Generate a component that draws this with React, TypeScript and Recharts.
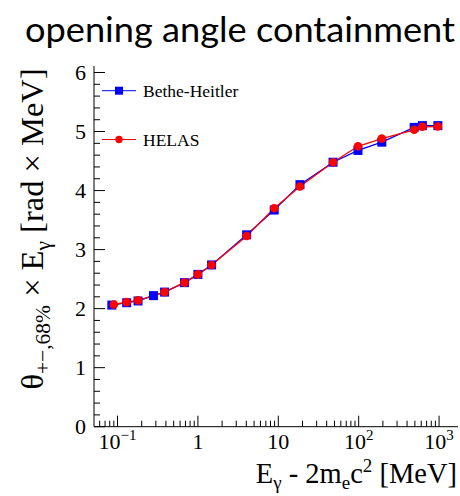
import React from "react";
import { LineChart, Line, XAxis, YAxis } from "recharts";

// photon kinetic energy above threshold [MeV] and 68% containment values
const bhEnergy = [0.085, 0.13, 0.18, 0.28, 0.385, 0.68, 1.0, 1.48, 4.04, 8.9, 18.6, 48, 98, 194, 490, 620, 966];
const bhTheta = [2.06, 2.1, 2.13, 2.22, 2.28, 2.44, 2.58, 2.74, 3.25, 3.67, 4.1, 4.48, 4.68, 4.82, 5.07, 5.1, 5.1];
const helasEnergy = [0.09, 0.13, 0.18, 0.385, 0.68, 1.0, 1.48, 4.04, 8.9, 18.6, 48, 98, 194, 490, 620, 966];
const helasTheta = [2.07, 2.11, 2.14, 2.28, 2.44, 2.58, 2.74, 3.23, 3.7, 4.07, 4.48, 4.75, 4.88, 5.03, 5.08, 5.085];

const xMajor = [0.1, 1, 10, 100, 1000];
const xTickBase = ["10", "1", "10", "10", "10"];
const xTickExp = ["\u22121", "", "", "2", "3"];
const yMajor = [0, 1, 2, 3, 4, 5, 6];

const X_DOMAIN = [0.051, 1720];
const Y_DOMAIN = [0, 6.11];

const PLOT_LEFT = 94;
const PLOT_BOTTOM = 426.7;
const SERIF = "'Liberation Serif', 'Times New Roman', serif";

const bhData = bhEnergy.map((e, i) => ({ e, v: bhTheta[i] }));
const helasData = helasEnergy.map((e, i) => ({ e, v: helasTheta[i] }));

// minor ticks for the log axis: 2..9 in every decade inside the range
const xMinor: number[] = [];
[0.01, 0.1, 1, 10, 100, 1000].forEach((d) => {
    for (let m = 2; m <= 9; m++) {
        const t = +(m * d).toPrecision(3);
        if (t >= X_DOMAIN[0] && t <= X_DOMAIN[1]) xMinor.push(t);
    }
});
const xTicks = [...xMajor, ...xMinor].sort((a, b) => a - b);

const yTicks: number[] = [];
for (let i = 0; i <= 30; i++) yTicks.push(+(i * 0.2).toFixed(1));

const XTick = (props: any) => {
    const { x, payload } = props;
    const idx = xMajor.indexOf(payload.value);
    const major = idx >= 0;
    return (
        <g>
            <line x1={x} x2={x} y1={PLOT_BOTTOM} y2={PLOT_BOTTOM - (major ? 11 : 6)} stroke="#000" strokeWidth={1} />
            {major && (
                <text x={x} y={449} textAnchor="middle" fontFamily={SERIF} fontSize={22} fill="#000">
                    {xTickBase[idx]}
                    {xTickExp[idx] && (
                        <tspan dy={-9} fontSize={15}>
                            {xTickExp[idx]}
                        </tspan>
                    )}
                </text>
            )}
        </g>
    );
};

const YTick = (props: any) => {
    const { y, payload } = props;
    const major = yMajor.includes(payload.value);
    return (
        <g>
            <line x1={PLOT_LEFT} x2={PLOT_LEFT + (major ? 11 : 6)} y1={y} y2={y} stroke="#000" strokeWidth={1} />
            {major && (
                <text x={86} y={y} dy="0.35em" textAnchor="end" fontFamily={SERIF} fontSize={22} fill="#000">
                    {payload.value}
                </text>
            )}
        </g>
    );
};

const BlueSquare = (props: any) => {
    const { cx, cy, index } = props;
    return <rect key={`bh-${index}`} x={cx - 4.5} y={cy - 4.5} width={9} height={9} fill="#0000ff" />;
};

const RedCircle = (props: any) => {
    const { cx, cy, index } = props;
    return <circle key={`helas-${index}`} cx={cx} cy={cy} r={4.3} fill="#ff0000" />;
};

const XTitle = () => (
    <text x={457} y={483} textAnchor="end" fontFamily={SERIF} fontSize={28.5} fill="#000">
        E<tspan dy={6} fontSize={19}>γ</tspan>
        <tspan dy={-6}> - 2m</tspan>
        <tspan dy={6} fontSize={19}>e</tspan>
        <tspan dy={-6}>c</tspan>
        <tspan dy={-11} fontSize={19}>2</tspan>
        <tspan dy={11}> [MeV]</tspan>
    </text>
);

const YTitle = () => (
    <text
        transform="translate(43, 229) rotate(-90)"
        textAnchor="middle"
        fontFamily={SERIF}
        fontSize={32.5}
        fill="#000"
    >
        θ<tspan dy={7} fontSize={21.5}>+−,68%</tspan>
        <tspan dy={-7}> × E</tspan>
        <tspan dy={7} fontSize={21.5}>γ</tspan>
        <tspan dy={-7}> [rad × MeV]</tspan>
    </text>
);

const App = () => {
    return (
        <div style={{ position: "absolute", left: 0, top: 0, width: 460, height: 496, background: "#fff" }}>
            <LineChart width={460} height={496} margin={{ top: 66, right: 2, bottom: 0, left: 0 }}>
                <XAxis
                    dataKey="e"
                    type="number"
                    scale="log"
                    domain={X_DOMAIN}
                    allowDataOverflow
                    ticks={xTicks}
                    interval={0}
                    tick={<XTick />}
                    tickLine={false}
                    axisLine={{ stroke: "#000", strokeWidth: 1 }}
                    height={69.3}
                    label={<XTitle />}
                />
                <XAxis
                    xAxisId="top"
                    orientation="top"
                    type="number"
                    scale="log"
                    domain={X_DOMAIN}
                    allowDataOverflow
                    tick={false}
                    tickLine={false}
                    axisLine={{ stroke: "#000", strokeWidth: 1 }}
                    height={0}
                />
                <YAxis
                    type="number"
                    domain={Y_DOMAIN}
                    allowDataOverflow
                    ticks={yTicks}
                    interval={0}
                    tick={<YTick />}
                    tickLine={false}
                    axisLine={{ stroke: "#000", strokeWidth: 1 }}
                    width={94}
                    label={<YTitle />}
                />
                <YAxis
                    yAxisId="right"
                    orientation="right"
                    type="number"
                    domain={Y_DOMAIN}
                    tick={false}
                    tickLine={false}
                    axisLine={{ stroke: "#000", strokeWidth: 1 }}
                    width={0}
                />
                <Line
                    data={bhData}
                    dataKey="v"
                    name="Bethe-Heitler"
                    stroke="#0000ff"
                    strokeWidth={1.3}
                    dot={BlueSquare}
                    activeDot={false}
                    isAnimationActive={false}
                />
                <Line
                    data={helasData}
                    dataKey="v"
                    name="HELAS"
                    stroke="#ff0000"
                    strokeWidth={1.3}
                    dot={RedCircle}
                    activeDot={false}
                    isAnimationActive={false}
                />
            </LineChart>
            <svg
                width={460}
                height={496}
                style={{ position: "absolute", left: 0, top: 0, pointerEvents: "none" }}
            >
                <text x={25} y={42} fontFamily="Lato, 'Open Sans', sans-serif" fontSize={34} fill="#000" textLength={430} lengthAdjust="spacingAndGlyphs">
                    opening angle containment
                </text>
                <g>
                    <line x1={102} x2={136} y1={90.7} y2={90.7} stroke="#0000ff" strokeWidth={1} />
                    <rect x={115} y={86.7} width={8} height={8} fill="#0000ff" />
                    <text x={143} y={90.7} dy="0.35em" fontFamily={SERIF} fontSize={17.5} fill="#000">
                        Bethe-Heitler
                    </text>
                    <line x1={102} x2={136} y1={139.5} y2={139.5} stroke="#ff0000" strokeWidth={1} />
                    <circle cx={119} cy={139.5} r={3.7} fill="#ff0000" />
                    <text x={143} y={139.5} dy="0.35em" fontFamily={SERIF} fontSize={17.5} fill="#000">
                        HELAS
                    </text>
                </g>
            </svg>
        </div>
    );
};

export default App;
